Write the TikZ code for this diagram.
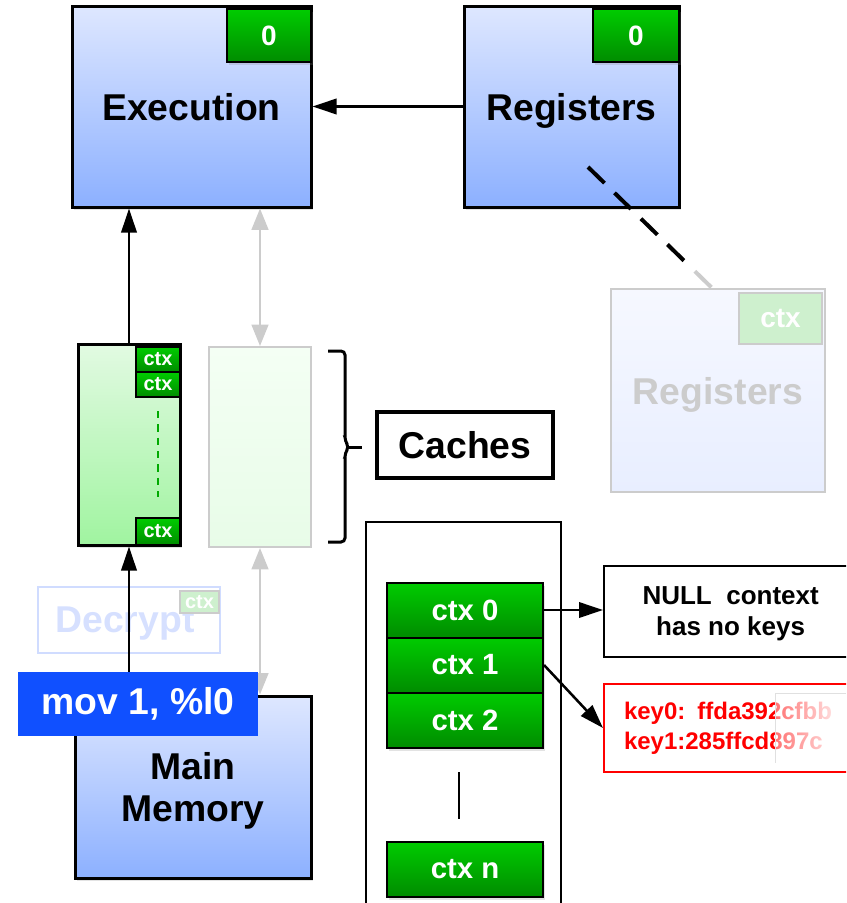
\documentclass[tikz,border=0pt]{standalone}
\usepackage{fontspec}
\setmainfont{Liberation Sans}
\usetikzlibrary{arrows.meta,shadows,fadings,calc}

\definecolor{blueTop}{RGB}{222,231,255}
\definecolor{blueBot}{RGB}{140,176,255}
\definecolor{gTop}{RGB}{0,204,0}
\definecolor{gBot}{RGB}{0,140,0}
\definecolor{cacheTop}{RGB}{226,250,226}
\definecolor{cacheBot}{RGB}{160,244,160}
\definecolor{ghostLine}{RGB}{204,204,204}
\definecolor{ghostBlueTop}{RGB}{246,248,255}
\definecolor{ghostBlueBot}{RGB}{232,238,255}
\definecolor{ghostGreen}{RGB}{206,240,206}
\definecolor{ghostCacheTop}{RGB}{244,255,244}
\definecolor{ghostCacheBot}{RGB}{232,252,232}
\definecolor{decBorder}{RGB}{208,220,255}
\definecolor{decText}{RGB}{214,224,255}
\definecolor{movBlue}{RGB}{16,80,255}
\definecolor{keyRed}{RGB}{255,0,0}
\definecolor{dashGreen}{RGB}{0,170,0}

\newcommand{\bigtext}{\fontsize{28}{31}\selectfont\bfseries}
\tikzfading[name=keyfade,left color=transparent!55,right color=transparent!4]

\begin{document}
\begin{tikzpicture}[x=0.75pt,y=-0.75pt,
  every node/.style={inner sep=0pt},
  softshadow/.style={drop shadow={opacity=0.22,shadow xshift=1.5pt,shadow yshift=-2.5pt}},
  unit/.style={draw=black,line width=2.25pt,top color=blueTop,bottom color=blueBot,
    softshadow,align=center,font=\bigtext,text depth=0pt},
  badge/.style={draw=black,line width=1.5pt,top color=gTop,bottom color=gBot,
    text=white,softshadow},
  ghostunit/.style={draw=ghostLine,line width=1.5pt,top color=ghostBlueTop,
    bottom color=ghostBlueBot,text=ghostLine,font=\bigtext,text depth=0pt},
  ghostbadge/.style={draw=ghostLine,line width=1.5pt,fill=ghostGreen,text=white},
  conn/.style={line width=1.9pt,-{Triangle[length=18pt,width=11.5pt]}},
  ghostconn/.style={line width=1.8pt,draw=ghostLine,
    {Triangle[length=16pt,width=12.5pt]}-{Triangle[length=16pt,width=12.5pt]}},
  regdash/.style={line width=3pt,dash pattern=on 17.25pt off 10.5pt},
  ctxrow/.style={draw=black,line width=1.5pt,top color=gTop,bottom color=gBot,
    text=white,minimum width=117pt,minimum height=41.25pt,softshadow,
    font=\fontsize{22}{26}\selectfont\bfseries},
  cbadge/.style={draw=black,line width=1.5pt,top color=gTop,bottom color=gBot,
    text=white,minimum width=33pt,font=\fontsize{15}{18}\selectfont\bfseries}
]
\useasboundingbox (0,0) rectangle (846,903);
\clip (0,0) rectangle (846,903);

% ---- CPU units ----
\node[unit,minimum width=179.25pt,minimum height=150.75pt] (exec) at (191.5,106.5) {Execution};
\node[badge,minimum width=63pt,minimum height=39.75pt,
  font=\fontsize{21}{24}\selectfont\bfseries] (execid) at (269,35.5) {0};

\node[unit,minimum width=161.25pt,minimum height=150.75pt] (reg) at (571.5,106.5) {Registers};
\node[badge,minimum width=64.5pt,minimum height=39.75pt,
  font=\fontsize{21}{24}\selectfont\bfseries] (regid) at (636,35.5) {0};

\draw[conn] (reg.west) -- (exec.east);

% ---- shadow register file ----
\node[ghostunit,minimum width=160.5pt,minimum height=152.25pt] (greg) at (718,390.5) {Registers};
\node[ghostbadge,minimum width=62.25pt,minimum height=38.25pt,
  font=\fontsize{21}{24}\selectfont\bfseries] (gregid) at (780.5,318.5) {ctx};

\coordinate (dA) at (588,167);
\coordinate (dB) at (712,288);
\draw[regdash] (dA) -- ($(dA)!0.78!(dB)$);
\draw[regdash,draw=ghostLine] ($(dA)!0.862!(dB)$) -- (dB);

% ---- caches ----
\node[draw=black,line width=2.25pt,top color=cacheTop,bottom color=cacheBot,softshadow,
  minimum width=76.5pt,minimum height=150.75pt] (c1) at (129,444.5) {};
\node[cbadge,minimum height=18.75pt] (c1a) at (158,359.5) {ctx};
\node[cbadge,minimum height=18.75pt] (c1b) at (158,384.5) {ctx};
\node[cbadge,minimum height=20.25pt] (c1n) at (158,531.5) {ctx};
\draw[dashGreen,line width=1.6pt,dash pattern=on 5.5pt off 4.5pt] (158,411) -- (158,497);

\node[draw=ghostLine,line width=1.5pt,top color=ghostCacheTop,bottom color=ghostCacheBot,
  minimum width=76.5pt,minimum height=150pt] (c2) at (260,447) {};

% brace grouping the two caches
\draw[line width=2.25pt,rounded corners=3pt]
  (328,351) -- (345,351) -- (345,441) -- (349,447) -- (345,453) -- (345,542) -- (328,542);
\draw[line width=2.25pt,rounded corners=2pt] (347,447) -- (362,447);

\node[draw=black,line width=3pt,fill=white,minimum width=132pt,minimum height=49.5pt,
  font=\bigtext] (caches) at (465,445) {Caches};

% ---- memory path ----
\node[draw=decBorder,line width=1.5pt,text=decText,minimum width=136.5pt,
  minimum height=49.5pt,font=\bigtext,text depth=0pt] (dec) at (129,620) {\hspace*{-6pt}Decrypt};
\node[ghostbadge,minimum width=29.25pt,minimum height=16.5pt,
  font=\fontsize{15}{18}\selectfont\bfseries] (decid) at (199.5,602) {ctx};

\node[unit,minimum width=177pt,minimum height=136.5pt] (mem) at (193,787) {Main\\Memory};

\draw[conn] (c1.north) -- (c1.north |- exec.south);
\draw[ghostconn] (c2.north) -- (c2.north |- exec.south);
\draw[ghostconn] (c2.south) -- (c2.south |- mem.north);
\draw[conn] (c1.south |- mem.north) -- (c1.south);

\node[fill=movBlue,text=white,minimum width=180pt,minimum height=48pt,
  font=\bigtext] (mov) at (138,704) {mov 1, \%l0};

% ---- context key table ----
\node[draw=black,line width=1.5pt,fill=white,minimum width=146.25pt,minimum height=330pt,
  anchor=north] (ktab) at (463.5,521) {};
\node[ctxrow] (ctx0) at (465,610) {ctx 0};
\node[ctxrow] (ctx1) at (465,665) {ctx 1};
\node[ctxrow] (ctx2) at (465,720) {ctx 2};
\node[ctxrow] (ctxn) at (465,869) {ctx n};
\draw[line width=1.5pt] (459,772) -- (459,819);

\node[draw=black,line width=1.5pt,fill=white,minimum width=190pt,minimum height=68.25pt,
  anchor=west,align=center,text depth=0pt,font=\fontsize{19.5}{23.25}\selectfont\bfseries]
  (null) at (603,611.5) {NULL\ \ context\\has no keys};
\node[draw=keyRed,line width=1.5pt,fill=white,text=keyRed,anchor=west,
  text width=170pt,inner xsep=15pt,minimum height=66pt,align=left,
  font=\fontsize{18}{22.5}\selectfont\bfseries]
  (keys) at (603,728) {key0: ffda392cfbb\\key1:285ffcd897c};
\fill[white,path fading=keyfade] (775,693) rectangle (846,763);
\draw[black!12,line width=0.6pt] (846,693) -- (775,693) -- (775,763);

\draw[conn] (ctx0.east) -- (ctx0.east -| null.west);
\draw[conn] (ctx1.east) -- (keys.west);
\end{tikzpicture}
\end{document}
